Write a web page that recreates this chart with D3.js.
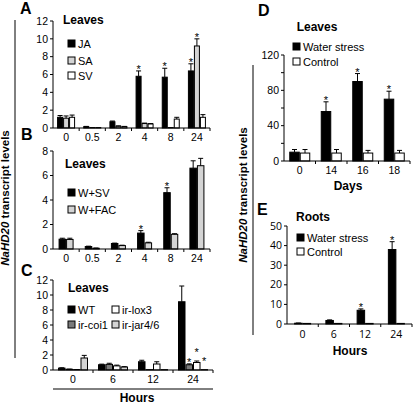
<!DOCTYPE html>
<html><head><meta charset="utf-8">
<script src="https://cdn.jsdelivr.net/npm/d3@7"></script>
<style>body{margin:0;background:#fff}svg{display:block;font-family:"Liberation Sans",Arial,sans-serif}</style>
</head><body><svg id="c" width="418" height="404"></svg>
<script>
// ---- DATA ----
const catsAB = ["0","0.5","2","4","8","24"];
const ticksA = [0,2,4,6,8,10,12];
const jaVals = [1.2,0.15,0.7,5.8,5.7,6.4];
const jaErr  = [0.2,0.03,0.08,0.6,1.0,0.8];
const saVals = [1.1,0.05,0.2,0.5,0.05,9.2];
const saErr  = [0.25,0,0.04,0.05,0,0.8];
const svVals = [1.2,0.05,0.15,0.45,1.0,1.2];
const svErr  = [0.25,0,0.03,0.05,0.2,0.3];
const starsA = [[0,3],[0,4],[0,5],[1,5]];

const ticksB = [0,2,4,6,8];
const wsvVals = [0.8,0.2,0.45,1.3,4.6,6.6];
const wsvErr  = [0.08,0.03,0.03,0.2,0.4,0.6];
const facVals = [0.78,0.06,0.28,0.5,1.2,6.8];
const facErr  = [0.1,0.02,0.03,0.05,0.05,0.6];
const starsB = [[0,3],[0,4]];

const catsC = ["0","6","12","24"];
const ticksC = [0,2,4,6,8,10,12];
const wtVals   = [0.25,0.7,1.1,9.1];
const wtErr    = [0.05,0.08,0.2,2.1];
const coiVals  = [0.1,0.75,0.05,0.7];
const coiErr   = [0.02,0.15,0,0.12];
const loxVals  = [0.05,0.55,0.8,1.0];
const loxErr   = [0.01,0.1,0.3,0.2];
const jarVals  = [1.6,0.4,0.05,0.05];
const jarErr   = [0.35,0.05,0,0];
const starsC = [[1,3,1.2],[2,3,2.5],[3,3,1.3]];

const catsD = ["0","14","16","18"];
const ticksD = [0,20,40,60,80,100,120];
const tickLabelsD = [0,40,80,120];
const wsDVals = [10,56,90,70];
const wsDErr  = [3,11,9,9];
const ctDVals = [9,9,9,9];
const ctDErr  = [4,4,3,3];
const starsD = [[0,1],[0,2],[0,3]];

const catsE = ["0","6","12","24"];
const ticksE = [0,10,20,30,40,50];
const wsEVals = [0.4,1.8,7,38];
const wsEErr  = [0.1,0.3,0.7,4];
const ctEVals = [0.3,0.3,0.3,0.3];
const ctEErr  = [0,0,0,0];
const starsE = [[0,2],[0,3]];

// ---- DRAW ----
const svg = d3.select("#c");
const BLACK="#000", LG="#d4d4d4", DG="#7a7a7a", WH="#fff";

function panel(o){
  const g = svg.append("g");
  const x = d3.scaleBand().domain(o.cats).range([o.x0,o.x1]);
  const y = d3.scaleLinear().domain([0,o.max]).range([o.yb,o.yt]);
  const n = o.series.length, bw = o.barW;
  const inner = d3.scaleBand().domain(d3.range(n))
      .range([(x.bandwidth()-n*bw)/2,(x.bandwidth()+n*bw)/2]);
  o.series.forEach((s,si)=>{
    const gg=g.append("g");
    gg.selectAll("rect").data(s.v).join("rect")
      .attr("x",(d,i)=>x(o.cats[i])+inner(si)+0.5)
      .attr("y",d=>y(d))
      .attr("width",bw-1)
      .attr("height",d=>Math.max(0,y(0)-y(d)))
      .attr("fill",s.fill).attr("stroke","#000").attr("stroke-width",1);
    const cx=(i)=>x(o.cats[i])+inner(si)+bw/2;
    s.e.forEach((e,i)=>{
      if(e<=0) return;
      const top=y(s.v[i]+e);
      gg.append("line").attr("x1",cx(i)).attr("x2",cx(i)).attr("y1",y(s.v[i])).attr("y2",top).attr("stroke","#000");
      gg.append("line").attr("x1",cx(i)-2.5).attr("x2",cx(i)+2.5).attr("y1",top).attr("y2",top).attr("stroke","#000");
    });
  });
  o.stars.forEach(st=>{
    const [si,i,lvl]=st; const s=o.series[si];
    const cx=x(o.cats[i])+inner(si)+bw/2;
    const yy = lvl!==undefined ? y(lvl) : y(s.v[i]+s.e[i])-3;
    g.append("text").attr("x",cx).attr("y",yy+5).attr("text-anchor","middle")
      .attr("font-size",o.starSize||11).text("*");
  });
  const ax = g.append("g").attr("font-size",o.fs||10.5).attr("font-family",o.ff||null);
  ax.append("line").attr("x1",o.x0).attr("x2",o.x0).attr("y1",y(o.max)).attr("y2",y(0)).attr("stroke","#000");
  o.ticks.forEach(t=>{
    ax.append("line").attr("x1",o.x0-3).attr("x2",o.x0).attr("y1",y(t)).attr("y2",y(t)).attr("stroke","#000");
  });
  (o.tickLabels||o.ticks).forEach(t=>{
    ax.append("text").attr("x",o.x0-5).attr("y",y(t)).attr("dy","0.35em").attr("text-anchor","end").text(t);
  });
  ax.append("line").attr("x1",o.x0).attr("x2",o.x1).attr("y1",y(0)).attr("y2",y(0)).attr("stroke","#000");
  o.cats.forEach((c,i)=>{
    if(i>0) ax.append("line").attr("x1",x(c)).attr("x2",x(c)).attr("y1",y(0)).attr("y2",y(0)+3).attr("stroke","#000");
    ax.append("text").attr("x",x(c)+x.bandwidth()/2).attr("y",y(0)+(o.lo||12.5)).attr("text-anchor","middle").text(c);
  });
  ax.append("line").attr("x1",o.x1).attr("x2",o.x1).attr("y1",y(0)).attr("y2",y(0)+3).attr("stroke","#000");
  return {x,y,g};
}

function legendItem(xx,yy,fill,label,fs){
  svg.append("rect").attr("x",xx).attr("y",yy-4).attr("width",7).attr("height",7).attr("fill",fill).attr("stroke","#000");
  svg.append("text").attr("x",xx+10).attr("y",yy).attr("dy","0.35em").attr("font-size",fs||11).text(label);
}
function bold(xx,yy,t,fs,anchor){
  svg.append("text").attr("x",xx).attr("y",yy).attr("font-size",fs).attr("font-weight","bold").attr("text-anchor",anchor||"start").text(t);
}

// Panel A
panel({cats:catsAB,x0:53,x1:210,yt:21,yb:128,max:12,ticks:ticksA,barW:6,
  series:[{v:jaVals,e:jaErr,fill:BLACK},{v:saVals,e:saErr,fill:LG},{v:svVals,e:svErr,fill:WH}],stars:starsA});
bold(20,14,"A",16);
bold(63,24,"Leaves",12);
legendItem(68,44,BLACK,"JA");
legendItem(68,61,LG,"SA");
legendItem(68,76,WH,"SV");

// Panel B
panel({cats:catsAB,x0:53,x1:210,yt:151,yb:249,max:8,ticks:ticksB,barW:7.5,
  series:[{v:wsvVals,e:wsvErr,fill:BLACK},{v:facVals,e:facErr,fill:LG}],stars:starsB});
bold(21,140,"B",16);
bold(65,168,"Leaves",12);
legendItem(68,193,BLACK,"W+SV");
legendItem(68,210,LG,"W+FAC");

// Panel C
panel({cats:catsC,x0:53,x1:213,yt:280,yb:370,max:12,ticks:ticksC,barW:7.5,
  series:[{v:wtVals,e:wtErr,fill:BLACK},{v:coiVals,e:coiErr,fill:DG},{v:loxVals,e:loxErr,fill:WH},{v:jarVals,e:jarErr,fill:LG}],stars:starsC});
bold(21,276,"C",16);
bold(68,292,"Leaves",12);
legendItem(68,310,BLACK,"WT");
legendItem(68,325,DG,"ir-coi1");
legendItem(112,310,WH,"ir-lox3");
legendItem(112,325,LG,"ir-jar4/6");
svg.append("line").attr("x1",53).attr("x2",213).attr("y1",389).attr("y2",389).attr("stroke","#000");
bold(137,402,"Hours",12,"middle");

// Left y label
svg.append("line").attr("x1",15).attr("x2",15).attr("y1",20).attr("y2",358).attr("stroke","#000");
svg.append("text").attr("transform","translate(9,198) rotate(-90)").attr("text-anchor","middle")
  .attr("font-size",11.5).attr("font-weight","bold")
  .html('<tspan font-style="italic">NaHD20</tspan> transcript levels');

// Panel D
panel({cats:catsD,x0:284,x1:410,yt:55,yb:161,max:120,ticks:ticksD,tickLabels:tickLabelsD,barW:10.5,lo:13,
  series:[{v:wsDVals,e:wsDErr,fill:BLACK},{v:ctDVals,e:ctDErr,fill:WH}],stars:starsD});
bold(258,16,"D",16);
bold(317,31,"Leaves",12,"middle");
legendItem(293,47,BLACK,"Water stress");
legendItem(293,62,WH,"Control");
bold(348,190,"Days",12,"middle");

// Panel E
panel({cats:catsE,x0:287,x1:412,yt:226,yb:324,max:50,ticks:ticksE,barW:8.5,ff:"'Open Sans',sans-serif",fs:10.5,lo:14,
  series:[{v:wsEVals,e:wsEErr,fill:BLACK},{v:ctEVals,e:ctEErr,fill:LG}],stars:starsE});
bold(257,215,"E",16);
bold(313,221,"Roots",12,"middle");
legendItem(297,238,BLACK,"Water stress");
legendItem(297,252,WH,"Control");
bold(350,355,"Hours",12,"middle");

// Right y label
svg.append("line").attr("x1",253).attr("x2",253).attr("y1",65).attr("y2",335).attr("stroke","#000");
svg.append("text").attr("transform","translate(247,195) rotate(-90)").attr("text-anchor","middle")
  .attr("font-size",11.5).attr("font-weight","bold")
  .html('<tspan font-style="italic">NaHD20</tspan> transcript levels');
</script></body></html>
